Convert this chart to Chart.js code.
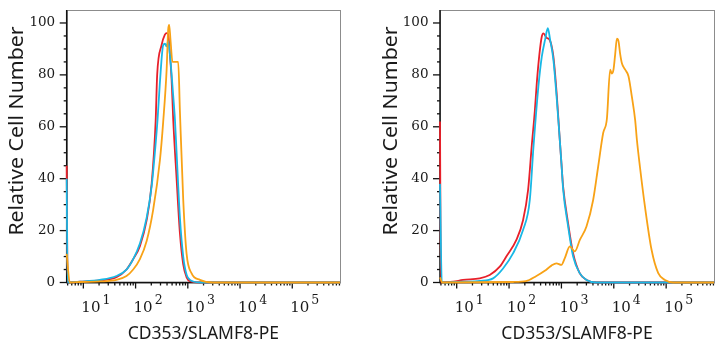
<!DOCTYPE html>
<html>
<head>
<meta charset="utf-8">
<script src="https://cdn.jsdelivr.net/npm/chart.js@4.4.1/dist/chart.umd.min.js"></script>
<style>
    body { margin: 0; background: #fff; }
    .wrap { display: flex; width: 726px; height: 350px; }
    .panel { width: 363px; height: 350px; }
</style>
</head>
<body>
<div class="wrap">
    <div class="panel"><canvas id="leftChart" width="363" height="350"></canvas></div>
    <div class="panel"><canvas id="rightChart" width="363" height="350"></canvas></div>
</div>
<script>
// Rango del eje X (escala logarítmica) y del eje Y
const X_MIN = 4.8;
const X_MAX = 820000;
const Y_MIN = 0;
const Y_MAX = 105;

// Etiquetas de décadas del eje X: 10^1 ... 10^5
const decadeValues = [10, 100, 1000, 10000, 100000];
const decadeExponents = ['1', '2', '3', '4', '5'];
const yMajorTicks = [0, 20, 40, 60, 80, 100];

const xTitle = 'CD353/SLAMF8-PE';
const yTitle = 'Relative Cell Number';

// Colores
const COLORS = {
    red: 'rgb(232, 32, 42)',
    cyan: 'rgb(24, 184, 230)',
    orange: 'rgb(248, 162, 22)'
};

// Panel izquierdo: [intensidad, % relativo]
const leftRed = [[4.8,45],[5.0,0],[8.6,0.3],[20.7,0.8],[43,2],[67,5],[90,9],[121,14],[163,24],[203,38],[242,62],[259,80],[315,91.5],[364,95.5],[393,96.1],[421,95.5],[454,88],[490,78],[525,63],[610,40],[706,19],[817,7],[948,2],[1100,0.5],[1700,0],[820000,0]];
const leftCyan = [[4.8,40],[5.0,0],[8.6,0.3],[20.7,1],[43,2.5],[67,5],[90,9],[121,15],[163,25],[203,37],[234,50],[264,63],[292,77],[338,91.5],[365,92],[393,91],[421,93],[454,88],[525,72],[566,63],[610,50],[706,25],[817,10],[948,3],[1100,1],[1700,0],[820000,0]];
const leftOrange = [[4.8,11],[5.5,0],[8.6,0.2],[20.7,0.4],[43,1],[67,2.5],[90,5],[121,9],[163,16],[217,28],[292,47],[338,62],[393,82],[421,97.5],[440,99.3],[466,93.5],[509,85],[655,85],[706,66],[817,32],[948,11],[1183,3.5],[1706,1],[3027,0],[820000,0]];

// Panel derecho
const rightRed = [[4.8,62],[5.0,0],[8.6,0.3],[13.2,1],[27.5,1.6],[42.7,2.9],[66.4,6.1],[88.7,10],[138,16.4],[185,24],[231,35.7],[272,53],[310,66],[339,77],[380,88],[422,94.8],[453,96],[526,94.2],[590,93.6],[703,87],[817,72],[916,57],[1000,46],[1078,37],[1343,22.8],[1675,11.2],[2248,3.5],[3009,1],[4667,0],[820000,0]];
const rightCyan = [[4.8,38],[5.2,0],[13.2,0.3],[27.5,0.6],[49.5,1.6],[76.8,5.4],[119,11.2],[185,20.2],[249,31.8],[292,52],[363,75.5],[422,87],[488,93.6],[550,98],[608,93.6],[703,85.8],[817,70.4],[916,57],[1000,46],[1078,36],[1343,21.6],[1675,10],[2248,3.5],[3009,1],[4667,0],[820000,0]];
const rightOrange = [[4.8,2],[5.3,0],[119,0.2],[211,0.5],[333,2.5],[481,4.5],[644,6.5],[802,7.4],[1000,6.8],[1161,9.4],[1449,13.9],[1803,12],[2248,16.4],[3009,21.6],[4036,31.8],[5034,44.7],[6270,57.6],[7380,63],[8530,82],[9200,80.5],[9870,82],[10640,88],[11460,94],[12300,93],[13250,88],[14280,84.5],[16510,82],[19090,79.5],[22180,71.5],[25630,62.5],[27620,55],[31530,44.7],[39340,29.3],[52650,12.6],[70630,3.6],[94850,1],[136800,0],[820000,0]];

function toPoints(arr) {
    return arr.map(p => ({ x: p[0], y: p[1] }));
}

function makeDataset(arr, color, order) {
    return {
        data: toPoints(arr),
        borderColor: color,
        borderWidth: 1.8,
        pointRadius: 0,
        fill: false,
        cubicInterpolationMode: 'monotone',
        clip: false,
        order: order
    };
}

// Ejes, marcas y títulos dibujados con las escalas de Chart.js
const flowAxes = {
    id: 'flowAxes',
    beforeDatasetsDraw(chart) {
        const { ctx, chartArea: a, scales: { x, y } } = chart;
        ctx.save();
        ctx.strokeStyle = '#8c8c8c';
        ctx.lineWidth = 1;
        ctx.strokeRect(a.left + 0.5, a.top + 0.5, a.width, a.height);

        ctx.strokeStyle = '#111';
        ctx.lineWidth = 1.5;
        ctx.beginPath();
        ctx.moveTo(a.left, a.top);
        ctx.lineTo(a.left, a.bottom);
        ctx.lineTo(a.right, a.bottom);
        ctx.stroke();

        // marcas del eje Y (mayores cada 20, menores cada 5)
        ctx.lineWidth = 1.3;
        y.ticks.forEach(t => {
            if (t.value > 100) return;
            const py = y.getPixelForValue(t.value);
            const len = yMajorTicks.includes(t.value) ? 7 : 3;
            ctx.beginPath();
            ctx.moveTo(a.left - len, py);
            ctx.lineTo(a.left, py);
            ctx.stroke();
        });

        // marcas del eje X (logarítmico)
        for (let e = 0; e <= 6; e++) {
            for (let m = 1; m <= 9; m++) {
                const v = m * Math.pow(10, e);
                if (v < X_MIN || v > X_MAX) continue;
                const px = x.getPixelForValue(v);
                const len = m === 1 ? 6 : 3;
                ctx.beginPath();
                ctx.moveTo(px, a.bottom);
                ctx.lineTo(px, a.bottom + len);
                ctx.stroke();
            }
        }
        ctx.restore();
    },
    afterDraw(chart) {
        const { ctx, chartArea: a, scales: { x } } = chart;
        ctx.save();
        ctx.fillStyle = '#1a1a1a';
        ctx.textBaseline = 'alphabetic';
        ctx.textAlign = 'left';
        decadeValues.forEach((v, i) => {
            const px = x.getPixelForValue(v);
            ctx.font = '15px "DejaVu Serif"';
            ctx.fillText('10', px - 2, 312);
            const w = ctx.measureText('10').width;
            ctx.font = '12.5px "DejaVu Serif"';
            ctx.fillText(decadeExponents[i], px - 2 + w + 2, 304);
        });

        ctx.font = '17.5px "Noto Sans"';
        ctx.textAlign = 'center';
        ctx.textBaseline = 'middle';
        ctx.fillText(xTitle, (a.left + a.right) / 2, 334);

        ctx.translate(a.left - 48.7, 131);
        ctx.rotate(-Math.PI / 2);
        ctx.scale(1.12, 1);
        ctx.font = '19px "Noto Sans"';
        ctx.fillText(yTitle, 0, 0);
        ctx.restore();
    }
};

function makeChart(id, red, cyan, orange, yWidth, padRight) {
    const ctx = document.getElementById(id).getContext('2d');
    return new Chart(ctx, {
        type: 'line',
        data: {
            datasets: [
                makeDataset(orange, COLORS.orange, 0),
                makeDataset(cyan, COLORS.cyan, 1),
                makeDataset(red, COLORS.red, 2)
            ]
        },
        options: {
            responsive: false,
            animation: false,
            layout: {
                autoPadding: false,
                padding: { top: 10, right: padRight, left: 0, bottom: 0 }
            },
            plugins: {
                legend: { display: false },
                tooltip: { enabled: false }
            },
            scales: {
                x: {
                    type: 'logarithmic',
                    min: X_MIN,
                    max: X_MAX,
                    grid: { display: false, drawTicks: false },
                    border: { display: false },
                    ticks: { display: false },
                    afterFit: s => { s.height = 67.5; }
                },
                y: {
                    min: Y_MIN,
                    max: Y_MAX,
                    grid: { display: false, drawTicks: false },
                    border: { display: false },
                    ticks: {
                        stepSize: 5,
                        autoSkip: false,
                        padding: 11.5,
                        color: '#1a1a1a',
                        font: { family: 'DejaVu Serif', size: 13.5 },
                        callback: v => (yMajorTicks.includes(v) ? v : '')
                    },
                    afterFit: s => {
                        s.width = yWidth;
                        s.paddingTop = 0;
                        s.paddingBottom = 0;
                    }
                }
            }
        },
        plugins: [flowAxes]
    });
}

makeChart('leftChart', leftRed, leftCyan, leftOrange, 66.7, 23);
makeChart('rightChart', rightRed, rightCyan, rightOrange, 77, 12);
</script>
</body>
</html>
